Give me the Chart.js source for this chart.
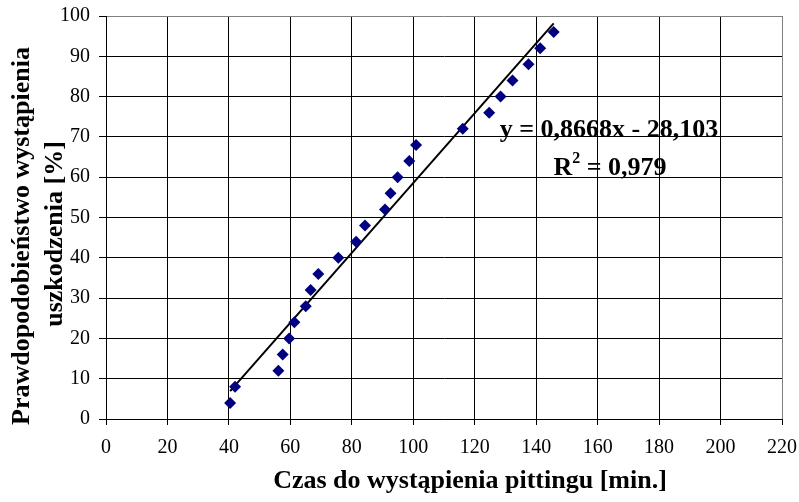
<!DOCTYPE html>
<html>
<head>
<meta charset="utf-8">
<script src="https://cdn.jsdelivr.net/npm/chart.js@4"></script>
<style>
  body { margin: 0; background: #fff; }
  #wrap { width: 799px; height: 502px; }
</style>
</head>
<body>
<div id="wrap"><canvas id="chart" width="799" height="502"></canvas></div>
<script>
// czas do wystąpienia pittingu [min.]
const czas = [40.4, 42, 56.1, 57.5, 59.6, 61.3, 65, 66.6, 69.1, 75.6, 81.4, 84.3,
              90.8, 92.6, 94.9, 98.7, 100.9, 116.1, 124.7, 128.4, 132.3, 137.5, 141.3, 145.7];
// prawdopodobieństwo wystąpienia uszkodzenia [%]
const prawd = [4, 8, 12, 16, 20, 24, 28, 32, 36, 40, 44, 48,
               52, 56, 60, 64, 68, 72, 76, 80, 84, 88, 92, 96];
// linia trendu (z równania na wykresie)
const slope = 0.8668;
const intercept = -28.103;
const r2 = '0,979';

const xTicks = [0, 20, 40, 60, 80, 100, 120, 140, 160, 180, 200, 220];
const yTicks = [0, 10, 20, 30, 40, 50, 60, 70, 80, 90, 100];

const FONT = "'Liberation Serif', 'Times New Roman', serif";

const points = czas.map((x, i) => ({ x: x, y: prawd[i] }));
const xMin = Math.min(...czas), xMax = Math.max(...czas);
const trend = [xMin, xMax].map(x => ({ x: x, y: slope * x + intercept }));

const textPlugin = {
    id: 'texts',
    afterDraw(chart) {
        const ctx = chart.ctx;
        ctx.save();
        ctx.fillStyle = '#000';
        ctx.font = 'bold 26px ' + FONT;
        ctx.textAlign = 'center';
        ctx.textBaseline = 'alphabetic';

        // tytuł osi X
        ctx.fillText('Czas do wystąpienia pittingu [min.]', 470, 488);

        // tytuł osi Y (dwie linie)
        ctx.save();
        ctx.translate(29, 236);
        ctx.rotate(-Math.PI / 2);
        ctx.fillText('Prawdopodobieństwo wystąpienia', 0, 0);
        ctx.restore();
        ctx.save();
        ctx.translate(62, 234);
        ctx.rotate(-Math.PI / 2);
        ctx.fillText('uszkodzenia [%]', 0, 0);
        ctx.restore();

        // równanie linii trendu
        const eq = 'y = ' + slope.toString().replace('.', ',') + 'x - ' +
                   Math.abs(intercept).toString().replace('.', ',');
        ctx.fillText(eq, 609, 137);
        const a = 'R', b = ' = ' + r2;
        const wa = ctx.measureText(a).width, wb = ctx.measureText(b).width;
        ctx.font = 'bold 16px ' + FONT;
        const w2 = ctx.measureText('2').width;
        const start = 610 - (wa + w2 + wb) / 2;
        ctx.textAlign = 'left';
        ctx.fillText('2', start + wa, 163);
        ctx.font = 'bold 26px ' + FONT;
        ctx.fillText(a, start, 175);
        ctx.fillText(b, start + wa + w2, 175);
        ctx.restore();
    }
};

new Chart(document.getElementById('chart'), {
    type: 'scatter',
    data: {
        datasets: [
            {
                label: 'dane',
                data: points,
                pointStyle: 'rectRot',
                pointRadius: 6,
                pointBackgroundColor: '#000080',
                pointBorderColor: '#000080',
                pointBorderWidth: 0
            },
            {
                label: 'trend',
                type: 'line',
                data: trend,
                borderColor: '#000',
                borderWidth: 2,
                pointRadius: 0,
                fill: false
            }
        ]
    },
    options: {
        responsive: false,
        animation: false,
        devicePixelRatio: 1,
        layout: { padding: { top: 16, right: 17, left: 0, bottom: 0 } },
        plugins: { legend: { display: false }, tooltip: { enabled: false } },
        scales: {
            x: {
                type: 'linear',
                min: 0, max: 220,
                afterBuildTicks: s => { s.ticks = xTicks.map(v => ({ value: v })); },
                afterFit: s => { s.height = 83; s.paddingLeft = 0; s.paddingRight = 0; },
                ticks: { font: { family: FONT, size: 20 }, color: '#000', padding: 11, maxRotation: 0 },
                grid: {
                    color: c => c.tick && c.tick.value === 220 ? '#808080' : '#000',
                    tickColor: '#000',
                    tickLength: 6,
                    lineWidth: 1
                },
                border: { color: '#000', width: 1 }
            },
            y: {
                type: 'linear',
                min: 0, max: 100,
                afterBuildTicks: s => { s.ticks = yTicks.map(v => ({ value: v })); },
                afterFit: s => { s.width = 106; s.paddingTop = 0; s.paddingBottom = 0; },
                ticks: { font: { family: FONT, size: 20 }, color: '#000', padding: 9 },
                grid: {
                    color: c => c.tick && c.tick.value === 100 ? '#808080' : '#000',
                    tickColor: '#000',
                    tickLength: 7,
                    lineWidth: 1
                },
                border: { color: '#000', width: 1 }
            }
        }
    },
    plugins: [textPlugin]
});
</script>
</body>
</html>
